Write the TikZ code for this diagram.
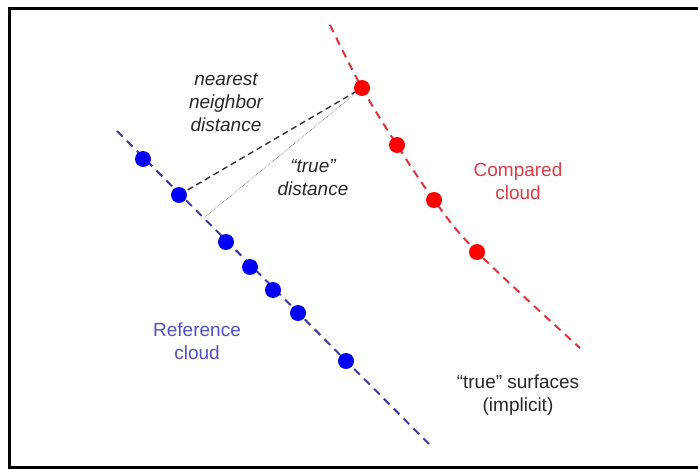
\documentclass[tikz,border=0pt]{standalone}
\usepackage{fontspec}
\setmainfont{Liberation Sans}
\usetikzlibrary{backgrounds}
\definecolor{dotblue}{RGB}{0,0,245}
\definecolor{dotred}{RGB}{255,0,0}
\definecolor{lineblue}{RGB}{60,60,160}
\definecolor{linered}{RGB}{225,50,60}
\definecolor{txtgray}{RGB}{40,40,40}
\definecolor{distgray}{RGB}{50,50,50}
\definecolor{txtred}{RGB}{220,60,70}
\definecolor{txtblue}{RGB}{80,80,200}
\begin{document}
\begin{tikzpicture}[x=1pt,y=-1pt,
  bluedot/.style={circle,fill=dotblue,inner sep=0pt,minimum size=16pt},
  reddot/.style={circle,fill=dotred,inner sep=0pt,minimum size=16pt},
  blueline/.style={draw=lineblue,line width=2pt,dash pattern=on 8pt off 6pt},
  redline/.style={draw=linered,line width=2pt,dash pattern=on 8pt off 6pt},
  lbl/.style={align=center,font=\fontsize{19}{23}\selectfont,text=txtgray},
  ilbl/.style={lbl,font=\fontsize{19}{23}\selectfont\itshape}]
\useasboundingbox (0,0) rectangle (698,470);
\draw[line width=3pt] (710,8.5) -- (9.5,8.5) -- (9.5,467) -- (710,467);
% dots
\node[reddot] (r1) at (362,88) {};
\node[reddot] (r2) at (397,145) {};
\node[reddot] (r3) at (434,200) {};
\node[reddot] (r4) at (477,252) {};
\node[bluedot] (b1) at (143,159) {};
\node[bluedot] (b2) at (179,195) {};
\node[bluedot] (b3) at (226,242) {};
\node[bluedot] (b4) at (250,267) {};
\node[bluedot] (b5) at (273,290) {};
\node[bluedot] (b6) at (298,313) {};
\node[bluedot] (b7) at (346,361) {};
\begin{scope}[on background layer]
  \coordinate (bs) at (117,131);
  \coordinate (be) at (430,445);
  \draw[blueline] (bs) -- (be);
  \coordinate (rs) at (330,25);
  \coordinate (re) at (580,348);
  \draw[redline] plot[smooth,tension=0.6] coordinates {(rs) (r1) (r2) (r3) (r4) (re)};
  \coordinate (foot) at (205,217);
  \draw[line width=1.4pt,dash pattern=on 6pt off 4pt,distgray] (b2.center) -- (r1.center);
  \draw[line width=0.7pt,densely dotted,gray] (foot) -- (r1.center);
\end{scope}
% labels
\node[ilbl] (nn) at (226,102) {nearest\\neighbor\\distance};
\node[ilbl] (td) at (313,178) {“true”\\distance};
\node[lbl,text=txtred] (cc) at (518,181) {Compared\\cloud};
\node[lbl,text=txtblue] (rc) at (197,341) {Reference\\cloud};
\node[lbl] (ts) at (518,395) {“true” surfaces\\(implicit)};
\end{tikzpicture}
\end{document}
